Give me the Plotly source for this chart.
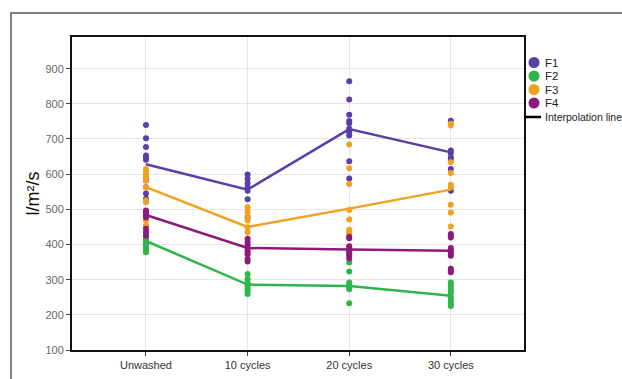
import plotly.graph_objects as go

categories = ["Unwashed", "10 cycles", "20 cycles", "30 cycles"]
series_names = ["F1", "F2", "F3", "F4"]
colors = ["#5a3fa6", "#2eb64d", "#f0a21f", "#8c1a7c"]

# individual measurements per category (l/m²/s)
F1_points = [
    [740, 702, 677, 653, 647, 641, 590, 582, 563, 545, 530],
    [599, 587, 574, 563, 553, 529, 477],
    [864, 812, 769, 751, 745, 729, 720, 710, 637, 588],
    [752, 667, 660, 648, 640, 615, 553],
]
F2_points = [
    [420, 415, 410, 405, 400, 392, 385, 378],
    [316, 302, 292, 287, 280, 273, 266, 259],
    [349, 323, 292, 287, 282, 278, 273, 233],
    [292, 285, 278, 270, 262, 250, 240, 232, 225],
]
F3_points = [
    [615, 608, 600, 592, 582, 563, 525, 520, 468, 455, 448],
    [506, 494, 482, 468, 449, 435, 373],
    [684, 617, 572, 498, 471, 442, 436, 430],
    [743, 738, 634, 603, 570, 563, 513, 491, 451],
]
F4_points = [
    [497, 492, 487, 483, 477, 445, 435, 425],
    [416, 406, 397, 387, 380, 373, 359, 352],
    [422, 418, 395, 390, 385, 380, 375, 368, 360],
    [430, 425, 420, 390, 385, 380, 375, 368, 331, 325, 321],
]
# interpolation line (means) per series
F1_line = [628, 556, 728, 662]
F2_line = [410, 286, 282, 254]
F3_line = [563, 450, 502, 556]
F4_line = [484, 390, 386, 382]

y_ticks = [100, 200, 300, 400, 500, 600, 700, 800, 900]
legend_labels = series_names + ["Interpolation line"]

points = [F1_points, F2_points, F3_points, F4_points]
lines = [F1_line, F2_line, F3_line, F4_line]

W, H = 622, 379
PL, PR, PT, PB = 72, 524, 37, 350  # plot frame in window pixels

fig = go.Figure()

# dots
for name, col, pts in zip(series_names, colors, points):
    xs, ys = [], []
    for i, vals in enumerate(pts):
        xs += [i] * len(vals)
        ys += vals
    fig.add_trace(go.Scatter(x=xs, y=ys, mode="markers", showlegend=False, name=name,
                             marker=dict(color=col, size=6), hoverinfo="y"))

# interpolation lines
for name, col, ln in zip(series_names, colors, lines):
    fig.add_trace(go.Scatter(x=list(range(len(categories))), y=ln, mode="lines",
                             showlegend=False, name=name, line=dict(color=col, width=2.5)))

# custom legend on a pixel-space overlay axis
leg_x_marker = 534
leg_x_text = 543
leg_y = [62.5, 76, 89.5, 103, 117]
fig.add_trace(go.Scatter(x=[leg_x_marker] * 4, y=leg_y[:4], mode="markers",
                         marker=dict(color=colors, size=11), xaxis="x2", yaxis="y2",
                         showlegend=False, hoverinfo="skip", cliponaxis=False))
fig.add_trace(go.Scatter(x=[PR, leg_x_text - 2], y=[leg_y[4]] * 2, mode="lines",
                         line=dict(color="black", width=2.5), xaxis="x2", yaxis="y2",
                         showlegend=False, hoverinfo="skip", cliponaxis=False))

font_family = "Liberation Sans, Arial, sans-serif"

annotations = [dict(x=leg_x_text, y=yy, xref="x2", yref="y2", text=t, showarrow=False,
                    xanchor="left", yanchor="middle",
                    font=dict(size=10.5, color="#222", family=font_family))
               for t, yy in zip(legend_labels, leg_y)]
for a in annotations[:4]:
    a["font"]["size"] = 11.5

fig.update_layout(
    width=W, height=H,
    margin=dict(l=0, r=0, t=0, b=0, autoexpand=False),
    paper_bgcolor="white", plot_bgcolor="rgba(0,0,0,0)",
    font=dict(family=font_family, size=11, color="#333"),
    showlegend=False,
    xaxis=dict(
        domain=[PL / W, PR / W], anchor="y",
        tickmode="array", tickvals=list(range(len(categories))), ticktext=categories,
        range=[-0.728, 3.72], showgrid=True, gridcolor="#e6e6e6", gridwidth=1,
        showline=True, linecolor="#111", linewidth=2, mirror=True,
        ticks="outside", ticklen=4, tickcolor="#444", zeroline=False,
        tickfont=dict(size=11, color="#333"),
    ),
    yaxis=dict(
        domain=[1 - PB / H, 1 - PT / H], anchor="x",
        tickvals=y_ticks, range=[100, 990], showgrid=True, gridcolor="#e6e6e6", gridwidth=1,
        showline=True, linecolor="#111", linewidth=2, mirror=True,
        ticks="outside", ticklen=4, tickcolor="#444", zeroline=False,
        tickfont=dict(size=11, color="#666"),
        title=dict(text="l/m²/s", font=dict(size=18, color="#111"), standoff=1),
    ),
    xaxis2=dict(domain=[0, 1], range=[0, W], visible=False, anchor="y2", fixedrange=True),
    yaxis2=dict(domain=[0, 1], range=[H, 0], visible=False, anchor="x2", fixedrange=True),
    annotations=annotations,
    shapes=[dict(type="rect", xref="x2", yref="y2",
                 x0=11, x1=W + 50, y0=13, y1=H + 50,
                 line=dict(color="#555", width=1.5), layer="below")],
)

fig.write_html("out.html",
               config={"displayModeBar": False},
               post_script="document.body.style.margin='0px';"
                           "document.documentElement.style.overflow='hidden';")
